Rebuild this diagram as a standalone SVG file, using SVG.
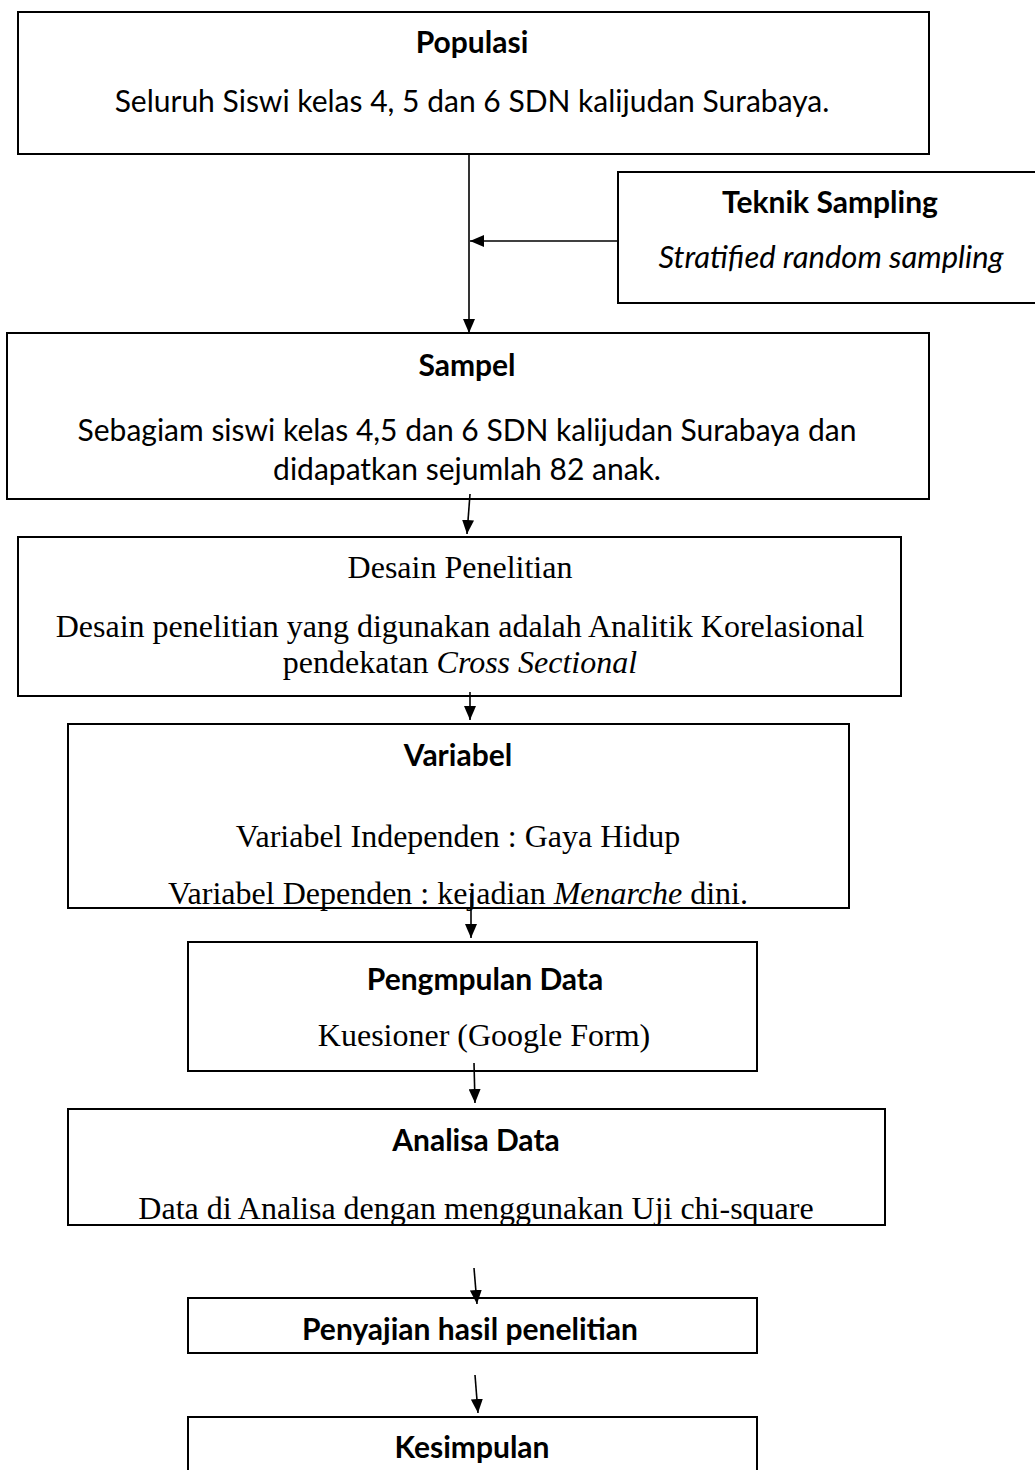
<svg xmlns="http://www.w3.org/2000/svg" width="1035" height="1470" viewBox="0 0 1035 1470">
<defs>
<marker id="ah" viewBox="0 0 14 12" markerWidth="14" markerHeight="12" refX="14" refY="6" orient="auto" markerUnits="userSpaceOnUse"><path d="M0,0 L14,6 L0,12 Z" fill="#000"/></marker>
<style>
.box{fill:#fff;stroke:#000;stroke-width:2}
.sb{font-family:Lato,"Liberation Sans",sans-serif;font-weight:700;font-size:30px;text-anchor:middle;fill:#000}
.s{font-family:Lato,"Liberation Sans",sans-serif;font-size:30px;text-anchor:middle;fill:#000}
.si{font-family:Lato,"Liberation Sans",sans-serif;font-size:31px;font-style:italic;text-anchor:middle;fill:#000}
.t{font-family:"Liberation Serif","Times New Roman",serif;font-size:32px;text-anchor:middle;fill:#000}
.it{font-style:italic}
.conn line{stroke:#000;stroke-width:1.6;marker-end:url(#ah)}
</style>
</defs>
<rect width="1035" height="1470" fill="#fff"/>
<g id="populasi">
<rect class="box" x="18" y="12" width="911" height="142"/>
<text class="sb" x="472" y="53">Populasi</text>
<text class="s" x="472" y="112">Seluruh Siswi kelas 4, 5 dan 6 SDN kalijudan Surabaya.</text>
</g>
<g id="teknik-sampling">
<rect class="box" x="618" y="172" width="430" height="131"/>
<text class="sb" x="830" y="213">Teknik Sampling</text>
<text class="si" x="831" y="268">Stratified random sampling</text>
</g>
<g id="sampel">
<rect class="box" x="7" y="333" width="922" height="166"/>
<text class="sb" x="467" y="376">Sampel</text>
<text class="s" x="467" y="441">Sebagiam siswi kelas 4,5 dan 6 SDN kalijudan Surabaya dan</text>
<text class="s" x="467" y="480">didapatkan sejumlah 82 anak.</text>
</g>
<g id="desain">
<rect class="box" x="18" y="537" width="883" height="159"/>
<text class="t" x="460" y="578">Desain Penelitian</text>
<text class="t" x="460" y="637">Desain penelitian yang digunakan adalah Analitik Korelasional</text>
<text class="t" x="460" y="673">pendekatan <tspan class="it">Cross Sectional</tspan></text>
</g>
<g id="variabel">
<rect class="box" x="68" y="724" width="781" height="184"/>
<text class="sb" x="458" y="766">Variabel</text>
<text class="t" x="458" y="847">Variabel Independen : Gaya Hidup</text>
<text class="t" x="458" y="904">Variabel Dependen : kejadian <tspan class="it">Menarche</tspan> dini.</text>
</g>
<g id="pengumpulan">
<rect class="box" x="188" y="942" width="569" height="129"/>
<text class="sb" x="485" y="990">Pengmpulan Data</text>
<text class="t" x="484" y="1046">Kuesioner (Google Form)</text>
</g>
<g id="analisa">
<rect class="box" x="68" y="1109" width="817" height="116"/>
<text class="sb" x="476" y="1151">Analisa Data</text>
<text class="t" x="476" y="1219">Data di Analisa dengan menggunakan Uji chi-square</text>
</g>
<g id="penyajian">
<rect class="box" x="188" y="1298" width="569" height="55"/>
<text class="sb" x="470" y="1340">Penyajian hasil penelitian</text>
</g>
<g id="kesimpulan">
<rect class="box" x="188" y="1417" width="569" height="80"/>
<text class="sb" x="472" y="1458">Kesimpulan</text>
</g>
<g id="connectors" class="conn">
<line x1="469" y1="154" x2="469" y2="333"/>
<line x1="618" y1="241" x2="470" y2="241"/>
<line x1="470" y1="494" x2="467" y2="534"/>
<line x1="470" y1="692" x2="470" y2="720"/>
<line x1="471" y1="893" x2="471" y2="938"/>
<line x1="474" y1="1063" x2="475" y2="1103"/>
<line x1="474" y1="1268" x2="477" y2="1304"/>
<line x1="475" y1="1375" x2="478" y2="1413"/>
</g>
</svg>
